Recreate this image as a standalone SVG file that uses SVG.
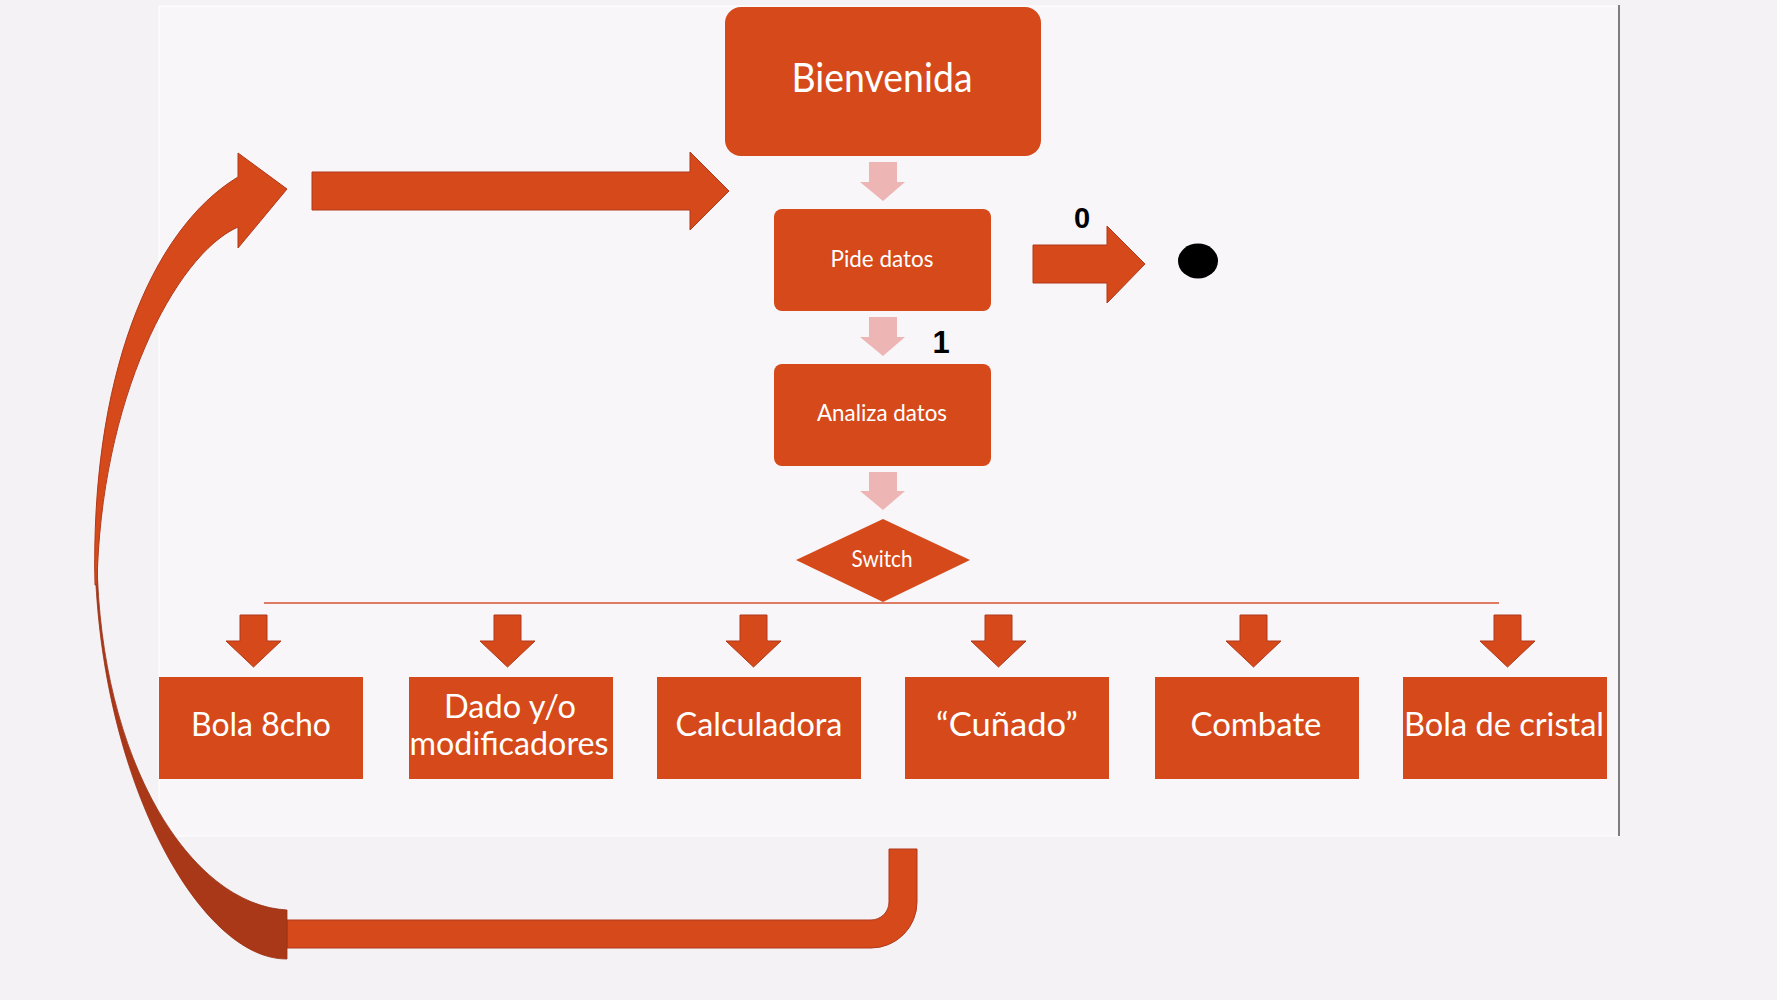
<svg xmlns="http://www.w3.org/2000/svg" width="1777" height="1000" viewBox="0 0 1777 1000">
<style>
.box{fill:#D5491A}
.lbl{font-family:Lato,"Open Sans","Liberation Sans",sans-serif;fill:#ffffff;text-anchor:middle}
.num{font-family:"Liberation Sans",Arial,sans-serif;font-weight:bold;fill:#000000;text-anchor:middle}
.pink{fill:#EDB5B3}
.arr{fill:#D5491A;stroke:#B0391A;stroke-width:1}
</style>
<rect x="0" y="0" width="1777" height="1000" fill="#F5F2F5"/>
<rect x="159" y="6" width="1460" height="830" fill="#F9F6F9" stroke="#FFFFFF" stroke-width="1"/>
<line x1="1619" y1="5" x2="1619" y2="836" stroke="#555555" stroke-width="1.5"/>

<g id="connectors">
  <path class="pink" d="M869,162 H897 V182 H905 L883,201 L860,182 H869 Z"/>
  <path class="pink" d="M869,317 H897 V337 H905 L883,356 L860,337 H869 Z"/>
  <path class="pink" d="M869,472 H897 V491 H905 L883,510 L860,491 H869 Z"/>
  <path class="arr" d="M1033,245 H1107 V226 L1145,264 L1107,303 V283 H1033 Z"/>
  <path class="arr" d="M312,172 H690 V152 L729,191 L690,230 V210 H312 Z"/>
  <line x1="264" y1="603" x2="1499" y2="603" stroke="#DD7C63" stroke-width="2"/>
  <path class="arr" d="M240,615 H267 V641 H281 L253.5,667 L226,641 H240 Z"/>
  <path class="arr" d="M494,615 H521 V641 H535 L507.5,667 L480,641 H494 Z"/>
  <path class="arr" d="M740,615 H767 V641 H781 L753.5,667 L726,641 H740 Z"/>
  <path class="arr" d="M985,615 H1012 V641 H1026 L998.5,667 L971,641 H985 Z"/>
  <path class="arr" d="M1240,615 H1267 V641 H1281 L1253.5,667 L1226,641 H1240 Z"/>
  <path class="arr" d="M1494,615 H1521 V641 H1535 L1507.5,667 L1480,641 H1494 Z"/>
  <path class="arr" d="M889,849 L917,849 L917,902 A46,46 0 0 1 871,948 L287,948 L287,920 L871,920 A18,18 0 0 0 889,902 Z"/>
  <path d="M95,560 C100,780 200,960 287,959 L287,910 C190,905 100,760 97,560 Z" fill="#A93818" stroke="#9A3216" stroke-width="0.8"/>
  <path class="arr" d="M95,585 C90,380 150,230 238,177 L238,153 L287,189 L238,248 L238,227 C175,255 100,400 97,585 Z"/>
</g>

<g id="node-bienvenida">
  <rect class="box" x="725" y="7" width="316" height="149" rx="16"/>
  <text class="lbl" x="882" y="92" font-size="40" textLength="181" lengthAdjust="spacingAndGlyphs">Bienvenida</text>
</g>
<g id="node-pide">
  <rect class="box" x="774" y="209" width="217" height="102" rx="8"/>
  <text class="lbl" x="882" y="267" font-size="23" textLength="103" lengthAdjust="spacingAndGlyphs">Pide datos</text>
</g>
<g id="node-analiza">
  <rect class="box" x="774" y="364" width="217" height="102" rx="8"/>
  <text class="lbl" x="882" y="421" font-size="23" textLength="130" lengthAdjust="spacingAndGlyphs">Analiza datos</text>
</g>
<g id="node-switch">
  <polygon class="box" points="883,519 970,560 883,602 796,560"/>
  <text class="lbl" x="882" y="567" font-size="23" textLength="61" lengthAdjust="spacingAndGlyphs">Switch</text>
</g>
<g id="node-end">
  <ellipse cx="1198" cy="261" rx="20" ry="17.5" fill="#000000"/>
</g>
<g id="labels">
  <text class="num" x="1082" y="228" font-size="29">0</text>
  <text class="num" x="941" y="353" font-size="31">1</text>
</g>
<g id="node-bola8">
  <rect class="box" x="159" y="677" width="204" height="102"/>
  <text class="lbl" x="261" y="736" font-size="32" textLength="140" lengthAdjust="spacingAndGlyphs">Bola 8cho</text>
</g>
<g id="node-dado">
  <rect class="box" x="409" y="677" width="204" height="102"/>
  <text class="lbl" x="510" y="718" font-size="32" textLength="132" lengthAdjust="spacingAndGlyphs">Dado y/o</text>
  <text class="lbl" x="509" y="755" font-size="32" textLength="199" lengthAdjust="spacingAndGlyphs">modificadores</text>
</g>
<g id="node-calc">
  <rect class="box" x="657" y="677" width="204" height="102"/>
  <text class="lbl" x="759" y="736" font-size="32" textLength="167" lengthAdjust="spacingAndGlyphs">Calculadora</text>
</g>
<g id="node-cunado">
  <rect class="box" x="905" y="677" width="204" height="102"/>
  <text class="lbl" x="1007" y="736" font-size="32" textLength="142" lengthAdjust="spacingAndGlyphs">“Cuñado”</text>
</g>
<g id="node-combate">
  <rect class="box" x="1155" y="677" width="204" height="102"/>
  <text class="lbl" x="1256" y="736" font-size="32" textLength="131" lengthAdjust="spacingAndGlyphs">Combate</text>
</g>
<g id="node-cristal">
  <rect class="box" x="1403" y="677" width="204" height="102"/>
  <text class="lbl" x="1504" y="736" font-size="32" textLength="200" lengthAdjust="spacingAndGlyphs">Bola de cristal</text>
</g>
</svg>
